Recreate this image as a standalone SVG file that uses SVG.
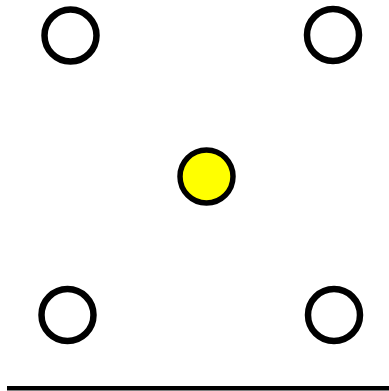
<svg xmlns="http://www.w3.org/2000/svg" width="389" height="391" viewBox="0 0 389 391">
<style>
.ring{fill:#fff;stroke:#000;stroke-width:6.5}
.hub{fill:#ffff00;stroke:#000;stroke-width:5.5}
</style>
<rect width="389" height="391" fill="#fff"/>
<g id="node-tl"><circle class="ring" cx="70.5" cy="35.5" r="26"/></g>
<g id="node-tr"><circle class="ring" cx="333" cy="35" r="26"/></g>
<g id="node-center"><circle class="hub" cx="206.5" cy="176.5" r="26.5"/></g>
<g id="node-bl"><circle class="ring" cx="67.5" cy="315" r="26"/></g>
<g id="node-br"><circle class="ring" cx="334" cy="315" r="26"/></g>
<g id="connectors"></g>
<rect x="7" y="386" width="382" height="4.5" fill="#000"/>
</svg>
